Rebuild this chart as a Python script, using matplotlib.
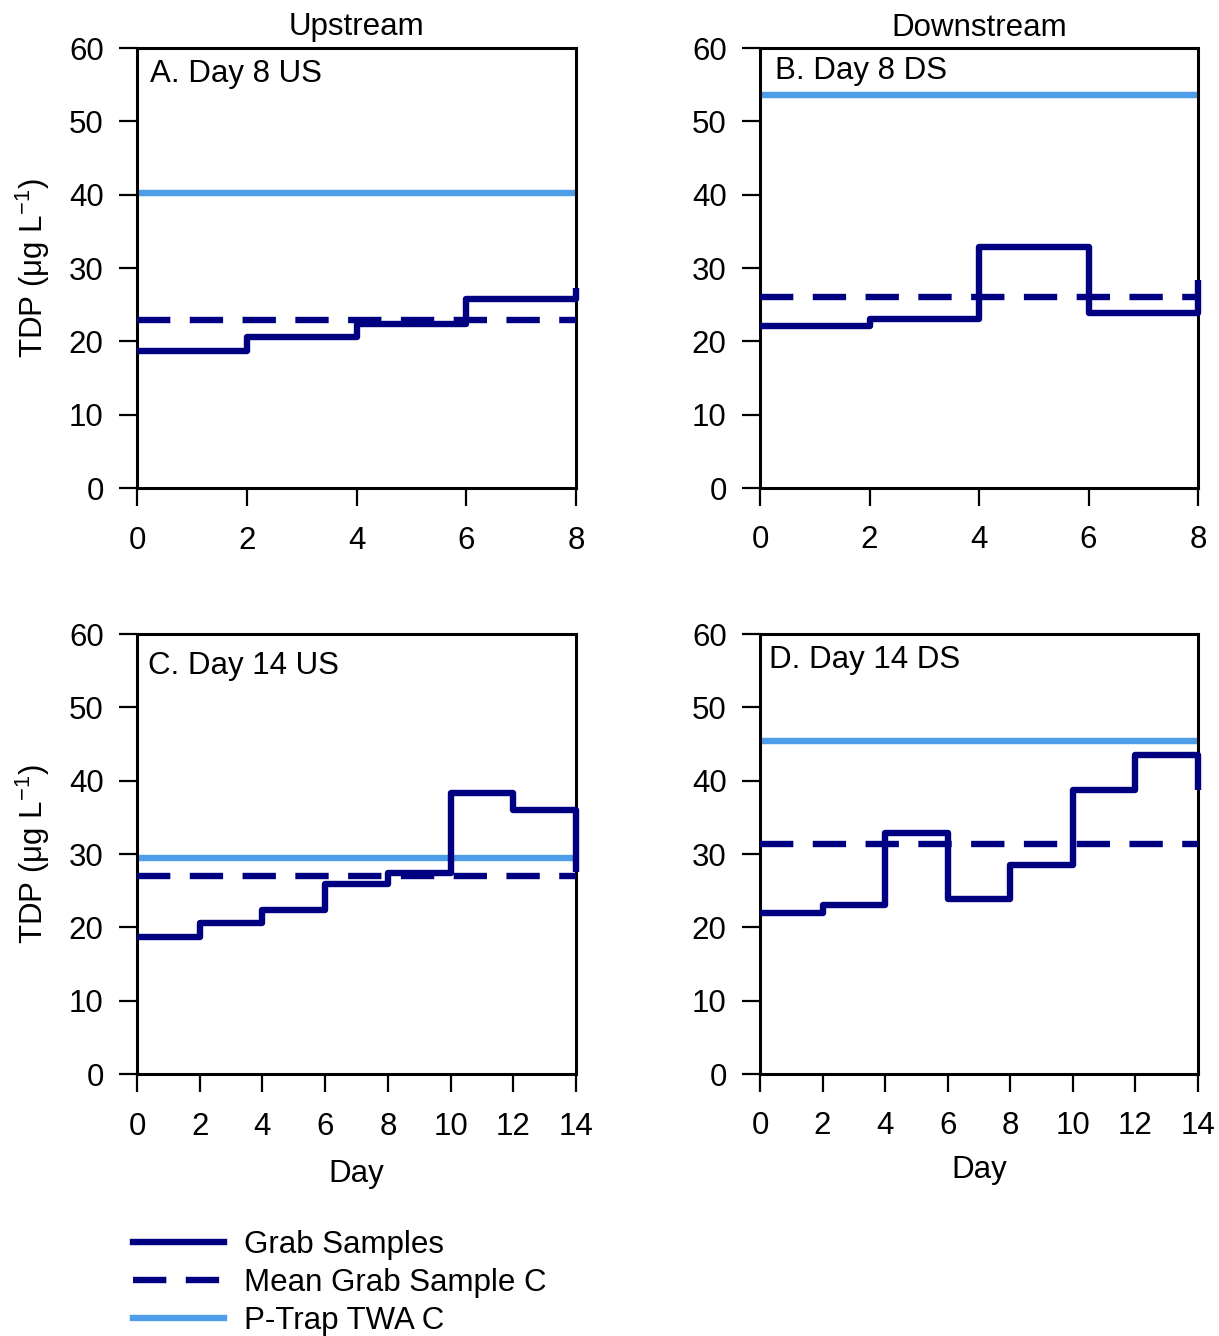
import numpy as np
import matplotlib
matplotlib.use("Agg")
import matplotlib.pyplot as plt
from matplotlib.lines import Line2D

plt.rcParams['font.family'] = ['Liberation Sans', 'DejaVu Sans']
plt.rcParams['font.size'] = 22.5
plt.rcParams['lines.scale_dashes'] = False

NAVY = '#000080'
LIGHT = '#4D9DE8'
FS = 22.5

# Grab sample TDP (ug/L) at each sampling day, held until the next sample
days_8 = [0, 2, 4, 6, 8]
days_14 = [0, 2, 4, 6, 8, 10, 12, 14]
grab_a = [18.7, 20.6, 22.3, 25.8, 27.3]
grab_b = [22.05, 23.0, 32.8, 23.8, 28.4]
grab_c = [18.7, 20.6, 22.3, 25.9, 27.4, 38.3, 36.0, 27.6]
grab_d = [22.0, 23.0, 32.8, 23.8, 28.45, 38.7, 43.45, 38.7]

# Mean grab-sample concentration and P-trap time weighted average
mean_grab = [22.9, 26.0, 27.0, 31.3]
ptrap_twa = [40.2, 53.6, 29.4, 45.4]

panel_labels = ['A. Day 8 US', 'B. Day 8 DS', 'C. Day 14 US', 'D. Day 14 DS']
y_ticks = [0, 10, 20, 30, 40, 50, 60]

W, H = 1219, 1336
fig = plt.figure(figsize=(W / 100, H / 100), dpi=100)

def box(l, t, r, b):
    return [l / W, 1 - b / H, (r - l) / W, (b - t) / H]

axes = [fig.add_axes(box(137, 48, 576, 488)),
        fig.add_axes(box(760, 48, 1198, 488)),
        fig.add_axes(box(137, 634, 576, 1074)),
        fig.add_axes(box(760, 634, 1198, 1074))]

series = [(days_8, grab_a), (days_8, grab_b), (days_14, grab_c), (days_14, grab_d)]
label_pos = [(0.03, 0.942), (0.035, 0.947), (0.025, 0.928), (0.02, 0.94)]
x_pads = [14.5, 13.5, 14.5, 13.5]

for i, ax in enumerate(axes):
    x, y = series[i]
    xmax = x[-1]
    ax.plot([0, xmax], [ptrap_twa[i], ptrap_twa[i]], color=LIGHT, lw=4.6,
            solid_capstyle='butt', clip_on=False, zorder=2)
    ax.plot([0, xmax], [mean_grab[i], mean_grab[i]], color=NAVY, lw=4.6,
            dashes=(24, 14), dash_capstyle='butt', clip_on=False, zorder=3)
    ax.step(x, y, where='post', color=NAVY, lw=4.6, solid_capstyle='butt',
            solid_joinstyle='round', clip_on=False, zorder=4)

    ax.set_xlim(0, xmax)
    ax.set_ylim(0, 60)
    ax.set_xticks(x)
    ax.set_yticks(y_ticks)
    for s in ax.spines.values():
        s.set_linewidth(2.2)
    ax.tick_params(direction='out', length=13, width=1.6, labelsize=FS)
    ax.tick_params(axis='x', pad=x_pads[i])
    ax.tick_params(axis='y', pad=11)
    ax.text(label_pos[i][0], label_pos[i][1], panel_labels[i], transform=ax.transAxes,
            ha='left', va='center', fontsize=FS)

for ax in (axes[0], axes[2]):
    ax.set_ylabel(r'TDP ($\mathregular{\mu}$g L$^{\mathregular{-1}}$)', fontsize=FS, labelpad=12)
axes[2].set_xlabel('Day', fontsize=FS, labelpad=12)
axes[3].set_xlabel('Day', fontsize=FS, labelpad=10)

axes[0].set_title('Upstream', fontsize=FS, pad=9)
axes[1].set_title('Downstream', fontsize=FS, pad=9)

handles = [Line2D([], [], color=NAVY, lw=4.6),
           Line2D([], [], color=NAVY, lw=4.6, dashes=(24, 14)),
           Line2D([], [], color=LIGHT, lw=4.6)]
fig.legend(handles, ['Grab Samples', 'Mean Grab Sample C', 'P-Trap TWA C'],
           loc='upper left', bbox_to_anchor=(133 / W, 1 - 1230 / H), frameon=False,
           fontsize=FS, handlelength=2.9, handletextpad=0.65, labelspacing=0.25,
           borderpad=0, borderaxespad=0)

fig.savefig('out.png', dpi=100)
